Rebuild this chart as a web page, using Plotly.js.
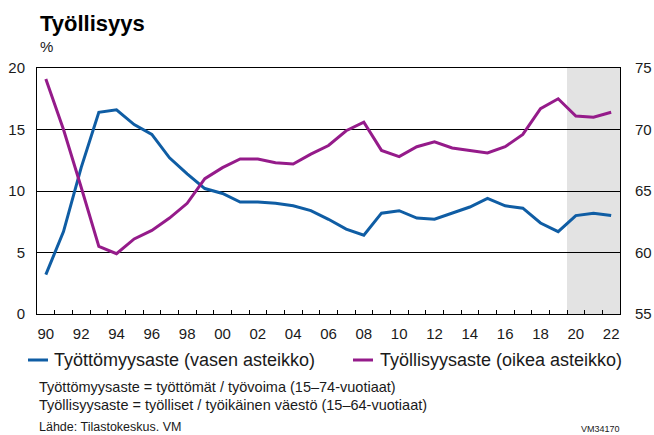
<!DOCTYPE html>
<html>
<head>
<meta charset="utf-8">
<script src="https://cdn.plot.ly/plotly-3.0.1.min.js"></script>
<style>
html,body{margin:0;padding:0;background:#fff;}
#chart{width:654px;height:435px;}
</style>
</head>
<body>
<div id="chart"></div>
<script>
// ---- data ----
const years = [1990,1991,1992,1993,1994,1995,1996,1997,1998,1999,2000,2001,2002,2003,2004,2005,2006,2007,2008,2009,2010,2011,2012,2013,2014,2015,2016,2017,2018,2019,2020,2021,2022];
const unemploymentRate = [3.2,6.7,11.9,16.4,16.6,15.4,14.6,12.7,11.4,10.2,9.8,9.1,9.1,9.0,8.8,8.4,7.7,6.9,6.4,8.2,8.4,7.8,7.7,8.2,8.7,9.4,8.8,8.6,7.4,6.7,8.0,8.2,8.0];
const employmentRate = [74.1,70.0,65.3,60.5,59.9,61.1,61.8,62.8,64.0,66.0,66.9,67.6,67.6,67.3,67.2,68.0,68.7,69.9,70.6,68.3,67.8,68.6,69.0,68.5,68.3,68.1,68.6,69.6,71.7,72.5,71.1,71.0,71.4];
const xTickVals = [1990,1992,1994,1996,1998,2000,2002,2004,2006,2008,2010,2012,2014,2016,2018,2020,2022];
const xTickText = ['90','92','94','96','98','00','02','04','06','08','10','12','14','16','18','20','22'];
const leftTicks = [0,5,10,15,20];
const rightTicks = [55,60,65,70,75];
const forecastStart = 2020;
const seriesNames = ['Työttömyysaste (vasen asteikko)','Työllisyysaste (oikea asteikko)'];
const chartTitle = 'Työllisyys';
const unitLabel = '%';
const notes = ['Työttömyysaste = työttömät / työvoima (15–74-vuotiaat)','Työllisyysaste = työlliset / työikäinen väestö (15–64-vuotiaat)'];
const sourceText = 'Lähde: Tilastokeskus. VM';
const codeText = 'VM34170';

// ---- styles ----
const W = 654, H = 435;
const M = {l:37, r:34, t:68, b:121};
const PW = W - M.l - M.r, PH = H - M.t - M.b;
const px = x => (x - M.l) / PW;
const py = y => (H - M.b - y) / PH;
const FONT = 'Liberation Sans, Arial, sans-serif';
const TXT = '#1a1a1a';
const BLUE = '#0f5da4';
const PURPLE = '#951b8a';

const traces = [
  {x: years, y: unemploymentRate, name: seriesNames[0], type:'scatter', mode:'lines',
   line:{color:BLUE, width:3}, yaxis:'y', hoverinfo:'skip'},
  {x: years, y: employmentRate, name: seriesNames[1], type:'scatter', mode:'lines',
   line:{color:PURPLE, width:3}, yaxis:'y2', hoverinfo:'skip'}
];

const xMin = years[0] - 0.5, xMax = years[years.length-1] + 0.5;
const minorTicks = years.slice(0, -1).map(y => y + 0.5);

const layout = {
  width: W, height: H,
  margin: M,
  paper_bgcolor:'#fff', plot_bgcolor:'rgba(0,0,0,0)',
  showlegend:false,
  font:{family:FONT, color:TXT, size:15},
  xaxis:{
    range:[xMin, xMax], tickmode:'array', tickvals:xTickVals, ticktext:xTickText,
    ticks:'', showgrid:false, zeroline:false, showline:true, linecolor:'#000', linewidth:1, mirror:true,
    tickfont:{family:FONT, size:15, color:TXT}, ticklabelstandoff:6,
    minor:{tickmode:'array', tickvals:minorTicks, ticks:'inside', ticklen:4, tickcolor:'#000', tickwidth:1, showgrid:false}
  },
  yaxis:{
    range:[0,20], tickmode:'array', tickvals:leftTicks, ticks:'', showgrid:true, gridcolor:'#000', gridwidth:1,
    zeroline:false, showline:true, linecolor:'#000', linewidth:1, mirror:true,
    tickfont:{family:FONT, size:15, color:TXT}, ticklabelstandoff:8
  },
  yaxis2:{
    range:[55,75], tickmode:'array', tickvals:rightTicks, ticks:'', showgrid:false, zeroline:false,
    overlaying:'y', side:'right', showline:true, linecolor:'#000', linewidth:1,
    tickfont:{family:FONT, size:15, color:TXT}, ticklabelstandoff:11
  },
  shapes:[
    {type:'rect', xref:'x', yref:'paper', x0:forecastStart-0.5, x1:xMax, y0:0, y1:1,
     fillcolor:'#e3e3e3', line:{width:0}, layer:'below'},
    {type:'line', xref:'paper', yref:'paper', x0:px(28), x1:px(48), y0:py(360), y1:py(360),
     line:{color:BLUE, width:3}},
    {type:'line', xref:'paper', yref:'paper', x0:px(353), x1:px(373), y0:py(360), y1:py(360),
     line:{color:PURPLE, width:3}}
  ],
  annotations:[
    {text:'<b>'+chartTitle+'</b>', xref:'paper', yref:'paper', x:px(38), y:py(24), xanchor:'left', yanchor:'middle',
     showarrow:false, font:{family:FONT, size:22, color:'#000'}},
    {text:unitLabel, xref:'paper', yref:'paper', x:px(38), y:py(46), xanchor:'left', yanchor:'middle',
     showarrow:false, font:{family:FONT, size:15, color:TXT}},
    {text:seriesNames[0], xref:'paper', yref:'paper', x:px(52), y:py(360), xanchor:'left', yanchor:'middle',
     showarrow:false, font:{family:FONT, size:18, color:TXT}},
    {text:seriesNames[1], xref:'paper', yref:'paper', x:px(378), y:py(360), xanchor:'left', yanchor:'middle',
     showarrow:false, font:{family:FONT, size:18, color:TXT}},
    {text:notes[0], xref:'paper', yref:'paper', x:px(37), y:py(387), xanchor:'left', yanchor:'middle',
     showarrow:false, font:{family:FONT, size:14.5, color:TXT}},
    {text:notes[1], xref:'paper', yref:'paper', x:px(37), y:py(405), xanchor:'left', yanchor:'middle',
     showarrow:false, font:{family:FONT, size:14.5, color:TXT}},
    {text:sourceText, xref:'paper', yref:'paper', x:px(37), y:py(427), xanchor:'left', yanchor:'middle',
     showarrow:false, font:{family:FONT, size:12.5, color:TXT}},
    {text:codeText, xref:'paper', yref:'paper', x:px(622), y:py(429), xanchor:'right', yanchor:'middle',
     showarrow:false, font:{family:FONT, size:9, color:TXT}}
  ]
};

Plotly.newPlot('chart', traces, layout, {staticPlot:true, displayModeBar:false});
</script>
</body>
</html>
